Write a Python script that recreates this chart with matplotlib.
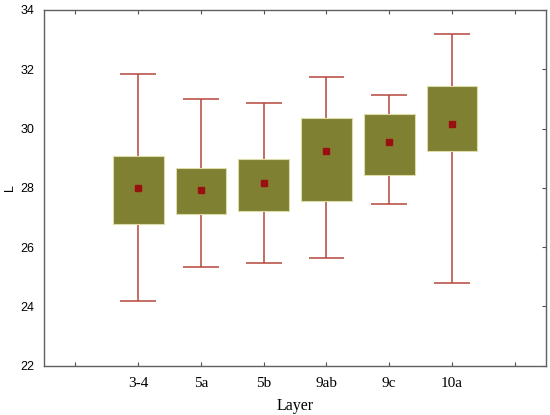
import numpy as np
import matplotlib.pyplot as plt
from matplotlib.patches import Rectangle

# -----------------------------------------
# DATA
# -----------------------------------------

layers = ["3-4", "5a", "5b", "9ab", "9c", "10a"]
means = [27.98, 27.94, 28.15, 29.24, 29.53, 30.15]
box_low = [26.79, 27.12, 27.23, 27.54, 28.43, 29.25]
box_high = [29.07, 28.66, 28.97, 30.35, 30.49, 31.42]
whisk_low = [24.17, 25.33, 25.46, 25.64, 27.45, 24.80]
whisk_high = [31.85, 30.98, 30.86, 31.74, 31.12, 33.18]

# -----------------------------------------
# PLOT
# -----------------------------------------

fig = plt.figure(figsize=(5.5, 4.15), dpi=100)
ax = fig.add_axes([0.08, 0.119, 0.913, 0.857])

box_w = 0.81
cap_w = 0.57
wcol = "#b5453d"

for i, name in enumerate(layers):
    x = i + 1
    ax.vlines(x, whisk_low[i], whisk_high[i], color=wcol, lw=1.1, zorder=1)
    ax.hlines([whisk_low[i], whisk_high[i]], x - cap_w / 2, x + cap_w / 2, color=wcol, lw=1.1, zorder=1)
    ax.add_patch(Rectangle((x - box_w / 2, box_low[i]), box_w, box_high[i] - box_low[i],
                           facecolor="#808033", edgecolor="#dcdca8", lw=0.8, zorder=2))
    ax.plot(x, means[i], "s", color="#9a1010", ms=3.8, zorder=3)

ax.set_xlim(-0.5, 7.5)
ax.set_ylim(22, 34)
ax.set_xticks(range(0, 8))
ax.set_xticklabels([""] + layers + [""], family="Liberation Serif", fontsize=11)
ax.set_yticks(range(22, 35, 2))
ax.set_yticklabels([str(v) for v in range(22, 35, 2)], family="Liberation Sans", fontsize=9)

ax.tick_params(direction="in", length=3, width=0.8, color="#505050", top=True, right=True)
ax.tick_params(axis="y", left=False, pad=7)
ax.tick_params(axis="x", pad=8)
for s in ax.spines.values():
    s.set_color("#606060")
    s.set_linewidth(1.0)

ax.set_xlabel("Layer", family="Liberation Serif", fontsize=11.5, labelpad=6)
# y label placed by hand, the tick pad pushes it off the figure otherwise
fig.text(10 / 550, 0.547, "L", rotation=90, ha="center", va="center",
         family="Liberation Sans", fontsize=9)

fig.savefig("out.png", dpi=100)
